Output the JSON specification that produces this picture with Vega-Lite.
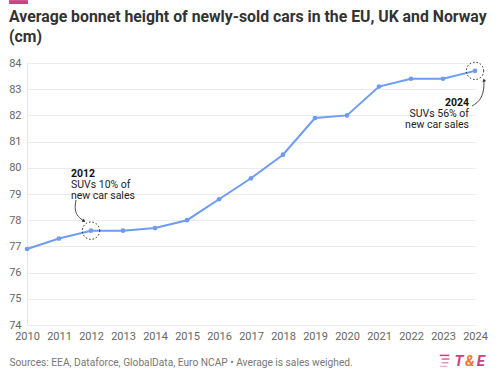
{
  "$schema": "https://vega.github.io/schema/vega-lite/v6.json",
  "width": 448,
  "height": 262,
  "autosize": "none",
  "padding": {"left": 27, "top": 63, "right": 25, "bottom": 53},
  "background": "white",
  "config": {"font": "Roboto", "view": {"stroke": null}},
  "resolve": {"axis": {"x": "independent", "y": "independent"}},
  "title": {
    "text": ["Average bonnet height of newly-sold cars in the EU, UK and Norway", "(cm)"],
    "anchor": "start",
    "frame": "group",
    "dx": -18,
    "offset": -46,
    "fontSize": 15.8,
    "fontWeight": "bold",
    "color": "#333333",
    "lineHeight": 20
  },
  "data": {"values": [{}]},
  "datasets": {
    "bonnet": [
      {"year": 2010, "height": 76.9},
      {"year": 2011, "height": 77.3},
      {"year": 2012, "height": 77.6},
      {"year": 2013, "height": 77.6},
      {"year": 2014, "height": 77.7},
      {"year": 2015, "height": 78.0},
      {"year": 2016, "height": 78.8},
      {"year": 2017, "height": 79.6},
      {"year": 2018, "height": 80.5},
      {"year": 2019, "height": 81.9},
      {"year": 2020, "height": 82.0},
      {"year": 2021, "height": 83.1},
      {"year": 2022, "height": 83.4},
      {"year": 2023, "height": 83.4},
      {"year": 2024, "height": 83.7}
    ],
    "arrow2012": [
      {"order": 1, "year": 2011.531, "height": 78.771},
      {"order": 2, "year": 2011.484, "height": 78.389},
      {"order": 3, "year": 2011.594, "height": 78.122},
      {"order": 4, "year": 2011.781, "height": 77.969}
    ],
    "arrow2024": [
      {"order": 1, "year": 2023.906, "height": 82.359},
      {"order": 2, "year": 2024.156, "height": 82.55},
      {"order": 3, "year": 2024.281, "height": 82.931},
      {"order": 4, "year": 2024.281, "height": 83.351}
    ]
  },
  "layer": [
    {
      "data": {"name": "bonnet"},
      "mark": {"type": "line", "color": "#6d9cf3", "strokeWidth": 2},
      "encoding": {
        "x": {
          "field": "year",
          "type": "quantitative",
          "scale": {"domain": [2010, 2024], "nice": false, "zero": false},
          "axis": {
            "values": [2010, 2011, 2012, 2013, 2014, 2015, 2016, 2017, 2018, 2019, 2020, 2021, 2022, 2023, 2024],
            "format": "d",
            "grid": false,
            "domain": false,
            "ticks": false,
            "labelOverlap": false,
            "labelPadding": 5,
            "labelFontSize": 11,
            "labelColor": "#666666",
            "labelFlush": false,
            "title": "Sources: EEA, Dataforce, GlobalData, Euro NCAP • Average is sales weighed.",
            "titleAnchor": "start",
            "titleAlign": "left",
            "titleX": -18,
            "titleY": 40,
            "titleBaseline": "alphabetic",
            "titleFontSize": 10.2,
            "titleFontWeight": "normal",
            "titleColor": "#777777"
          }
        },
        "y": {
          "field": "height",
          "type": "quantitative",
          "scale": {"domain": [74, 84], "nice": false, "zero": false},
          "axis": {
            "values": [74, 75, 76, 77, 78, 79, 80, 81, 82, 83, 84],
            "title": null,
            "domain": true,
            "domainColor": "#e6e6e6",
            "ticks": false,
            "labelOverlap": false,
            "labelPadding": 6,
            "labelFontSize": 11,
            "labelColor": "#666666",
            "gridColor": "#ebebeb",
            "gridWidth": 1
          }
        }
      }
    },
    {
      "data": {"name": "bonnet"},
      "mark": {"type": "point", "filled": true, "color": "#6d9cf3", "size": 22, "opacity": 1},
      "encoding": {
        "x": {"field": "year", "type": "quantitative", "axis": null},
        "y": {"field": "height", "type": "quantitative", "axis": null}
      }
    },
    {
      "mark": {"type": "point", "shape": "circle", "size": 300, "filled": false, "stroke": "#222222", "strokeWidth": 1, "strokeDash": [1.5, 2], "opacity": 1},
      "encoding": {"x": {"datum": 2012, "axis": null}, "y": {"datum": 77.6, "axis": null}}
    },
    {
      "mark": {"type": "point", "shape": "circle", "size": 300, "filled": false, "stroke": "#222222", "strokeWidth": 1, "strokeDash": [1.5, 2], "opacity": 1},
      "encoding": {"x": {"datum": 2024, "axis": null}, "y": {"datum": 83.7, "axis": null}}
    },
    {
      "data": {"name": "arrow2012"},
      "mark": {"type": "line", "interpolate": "basis", "color": "#333333", "strokeWidth": 0.9},
      "encoding": {
        "x": {"field": "year", "type": "quantitative", "axis": null},
        "y": {"field": "height", "type": "quantitative", "axis": null},
        "order": {"field": "order"}
      }
    },
    {
      "data": {"name": "arrow2024"},
      "mark": {"type": "line", "interpolate": "basis", "color": "#333333", "strokeWidth": 0.9},
      "encoding": {
        "x": {"field": "year", "type": "quantitative", "axis": null},
        "y": {"field": "height", "type": "quantitative", "axis": null},
        "order": {"field": "order"}
      }
    },
    {
      "mark": {"type": "point", "shape": "triangle-right", "size": 14, "filled": true, "color": "#333333", "angle": 34, "opacity": 1},
      "encoding": {"x": {"datum": 2011.781, "axis": null}, "y": {"datum": 77.969, "axis": null}}
    },
    {
      "mark": {"type": "point", "shape": "triangle-up", "size": 14, "filled": true, "color": "#333333", "angle": -10, "opacity": 1},
      "encoding": {"x": {"datum": 2024.281, "axis": null}, "y": {"datum": 83.351, "axis": null}}
    },
    {
      "mark": {"type": "text", "text": "2012", "align": "left", "baseline": "alphabetic", "fontSize": 10.5, "fontWeight": "bold", "color": "#111111"},
      "encoding": {"x": {"datum": 2011.375, "axis": null}, "y": {"datum": 79.66, "axis": null}}
    },
    {
      "mark": {"type": "text", "text": ["SUVs 10% of", "new car sales"], "align": "left", "baseline": "alphabetic", "fontSize": 10.5, "lineHeight": 11, "color": "#222222"},
      "encoding": {"x": {"datum": 2011.375, "axis": null}, "y": {"datum": 79.229, "axis": null}}
    },
    {
      "mark": {"type": "text", "text": "2024", "align": "right", "baseline": "alphabetic", "fontSize": 10.5, "fontWeight": "bold", "color": "#111111"},
      "encoding": {"x": {"datum": 2023.8125, "axis": null}, "y": {"datum": 82.359, "axis": null}}
    },
    {
      "mark": {"type": "text", "text": ["SUVs 56% of", "new car sales"], "align": "right", "baseline": "alphabetic", "fontSize": 10.5, "lineHeight": 11, "color": "#222222"},
      "encoding": {"x": {"datum": 2023.8125, "axis": null}, "y": {"datum": 81.95, "axis": null}}
    },
    {
      "mark": {"type": "rect", "color": "#c8437f"},
      "encoding": {"x": {"datum": 2009.44, "axis": null}, "x2": {"datum": 2010.03}, "y": {"datum": 86.4, "axis": null}, "y2": {"datum": 86.25}}
    },
    {
      "mark": {"type": "text", "text": "T", "align": "center", "baseline": "middle", "fontSize": 15, "fontWeight": "bold", "fontStyle": "italic", "color": "#c8437f"},
      "encoding": {"x": {"datum": 2023.5, "axis": null}, "y": {"datum": 72.63, "axis": null}}
    },
    {
      "mark": {"type": "text", "text": "&", "align": "center", "baseline": "middle", "fontSize": 15, "fontWeight": "bold", "fontStyle": "italic", "color": "#f07a3c"},
      "encoding": {"x": {"datum": 2023.84, "axis": null}, "y": {"datum": 72.63, "axis": null}}
    },
    {
      "mark": {"type": "text", "text": "E", "align": "center", "baseline": "middle", "fontSize": 15, "fontWeight": "bold", "fontStyle": "italic", "color": "#c8437f"},
      "encoding": {"x": {"datum": 2024.18, "axis": null}, "y": {"datum": 72.63, "axis": null}}
    },
    {
      "mark": {"type": "rule", "color": "#c8437f", "strokeWidth": 1.5},
      "encoding": {"x": {"datum": 2022.9, "axis": null}, "x2": {"datum": 2023.2}, "y": {"datum": 72.84, "axis": null}}
    },
    {
      "mark": {"type": "rule", "color": "#d46a98", "strokeWidth": 1.5},
      "encoding": {"x": {"datum": 2022.96, "axis": null}, "x2": {"datum": 2023.2}, "y": {"datum": 72.7, "axis": null}}
    },
    {
      "mark": {"type": "rule", "color": "#e08fb2", "strokeWidth": 1.5},
      "encoding": {"x": {"datum": 2022.96, "axis": null}, "x2": {"datum": 2023.17}, "y": {"datum": 72.56, "axis": null}}
    },
    {
      "mark": {"type": "rule", "color": "#ebb4cc", "strokeWidth": 1.5},
      "encoding": {"x": {"datum": 2022.9, "axis": null}, "x2": {"datum": 2023.14}, "y": {"datum": 72.42, "axis": null}}
    }
  ]
}
